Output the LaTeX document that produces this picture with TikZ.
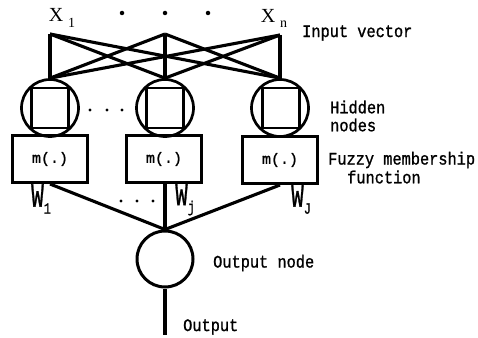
\documentclass[tikz,border=0pt]{standalone}
\usepackage{fontspec}
\setmainfont{Liberation Serif}
\newfontfamily\monof{Liberation Mono}[FakeBold=1.2]
\newcommand{\tall}[1]{\scalebox{1}[1.15]{#1}}
\newcommand{\WW}[1]{{\monof\fontsize{20}{20}\selectfont\scalebox{1.05}[1.7]{W}}\raisebox{-7pt}{\monof\fontsize{12}{12}\selectfont\scalebox{1}[1.3]{#1}}}
\begin{document}
\begin{tikzpicture}[x=1pt,y=-1pt,
 conn/.style={line width=3.1pt},
 hid/.style={circle,draw,line width=2.7pt,minimum size=57pt,inner sep=0pt},
 sq/.style={draw,line width=2.5pt,minimum width=37pt,minimum height=40pt,inner sep=0pt},
 mbox/.style={draw,line width=3pt,minimum width=75pt,minimum height=47pt,inner sep=0pt,font=\monof\fontsize{15}{15}\selectfont},
 outn/.style={circle,draw,line width=3pt,minimum size=56pt,inner sep=0pt},
 lbl/.style={font=\monof\fontsize{15.3}{17}\selectfont,anchor=west,inner sep=0pt},
 xl/.style={font=\fontsize{20}{20}\selectfont,inner sep=0pt},
 wl/.style={inner sep=0pt},
 bigdot/.style={circle,fill,inner sep=0pt,minimum size=4.5pt},
 smdot/.style={circle,fill,inner sep=0pt,minimum size=3.2pt}
]
\useasboundingbox (0,0) rectangle (478,337);

% inputs
\coordinate (i1) at (50,34);
\coordinate (i2) at (165,34);
\coordinate (i3) at (280,35);
\node[xl] (x1) at (62,18) {X\hspace{5pt}\raisebox{-6pt}{\fontsize{14}{14}\selectfont 1}};
\node[xl] (xn) at (274,18) {X\hspace{5pt}\raisebox{-5pt}{\fontsize{14}{14}\selectfont n}};
\node[bigdot] (d1) at (122,13) {};
\node[bigdot] (d2) at (165,13) {};
\node[bigdot] (d3) at (208,13) {};
\node[lbl] (lin) at (302,33) {\tall{Input vector}};

% hidden nodes
\node[hid] (h1) at (50,108) {};
\node[hid] (h2) at (165,108) {};
\node[hid] (h3) at (280,108) {};
\node[sq] (s1) at (50,108) {};
\node[sq] (s2) at (165,108) {};
\node[sq] (s3) at (281,108) {};
\node[smdot] (hd1) at (90,110) {};
\node[smdot] (hd2) at (107,110) {};
\node[smdot] (hd3) at (122,110) {};
\node[lbl] (lh1) at (330,107) {\tall{Hidden}};
\node[lbl] (lh2) at (330,125) {\tall{nodes}};

% connections input -> hidden
\foreach \i in {i1,i2,i3}
  \foreach \h in {h1,h2,h3}
    \draw[conn] (\i) -- (\h.north);

% membership boxes
\node[mbox] (m1) at (50,159) {m(.)};
\node[mbox] (m2) at (164,159) {m(.)};
\node[mbox] (m3) at (280,160) {m(.)};
\node[lbl] (lf1) at (328,160) {\tall{Fuzzy membership}};
\node[lbl] (lf2) at (347,177) {\tall{function}};

% output node
\node[outn] (o) at (165,259) {};
\coordinate (oend) at (165,335);
\draw[conn] (m1.south) -- (o.north);
\draw[conn] (m2.south -| o.north) -- (o.north);
\draw[conn] (m3.south) -- (o.north);
\draw[conn] (o.south) -- (oend);

\node[smdot] (wd1) at (121,201) {};
\node[smdot] (wd2) at (137,201) {};
\node[smdot] (wd3) at (153,201) {};
\node[wl,anchor=west] (w1) at (31,199) {\WW{1}};
\node[wl,anchor=west] (wj) at (175,199) {\WW{j}};
\node[wl,anchor=west] (wJ) at (291,199) {\WW{J}};

\node[lbl] (lo1) at (213,263) {\tall{Output node}};
\node[lbl] (lo2) at (183,327) {\tall{Output}};
\end{tikzpicture}
\end{document}
